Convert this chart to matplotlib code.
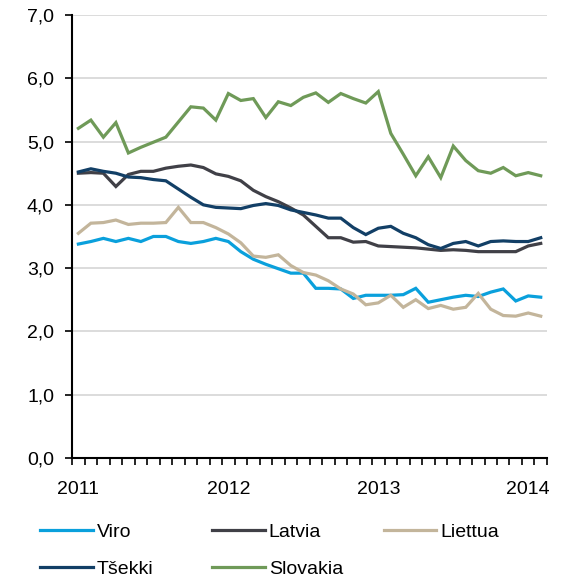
import numpy as np
import matplotlib
matplotlib.use("Agg")
import matplotlib.pyplot as plt
from matplotlib.ticker import FuncFormatter

plt.rcParams['font.family'] = ['Liberation Sans', 'DejaVu Sans']

# monthly data, Jan 2011 - Feb 2014
years = ['2011', '2012', '2013', '2014']

viro = [3.38, 3.42, 3.47, 3.42, 3.47, 3.42, 3.50, 3.50, 3.42, 3.39, 3.42, 3.47,
        3.42, 3.26, 3.14, 3.06, 2.99, 2.92, 2.92, 2.68, 2.68, 2.67, 2.52, 2.57,
        2.57, 2.57, 2.58, 2.68, 2.46, 2.50, 2.54, 2.57, 2.55, 2.62, 2.67, 2.48,
        2.56, 2.54]
latvia = [4.50, 4.51, 4.50, 4.29, 4.48, 4.53, 4.53, 4.58, 4.61, 4.63, 4.59, 4.49,
          4.45, 4.38, 4.23, 4.13, 4.05, 3.95, 3.84, 3.66, 3.48, 3.48, 3.41, 3.42,
          3.35, 3.34, 3.33, 3.32, 3.30, 3.28, 3.29, 3.28, 3.26, 3.26, 3.26, 3.26,
          3.35, 3.39]
liettua = [3.55, 3.71, 3.72, 3.76, 3.69, 3.71, 3.71, 3.72, 3.96, 3.72, 3.72, 3.64,
           3.54, 3.40, 3.19, 3.17, 3.21, 3.04, 2.93, 2.89, 2.80, 2.67, 2.59, 2.42,
           2.45, 2.57, 2.38, 2.50, 2.36, 2.41, 2.35, 2.38, 2.60, 2.35, 2.25, 2.24,
           2.29, 2.24]
tsekki = [4.52, 4.57, 4.53, 4.50, 4.44, 4.43, 4.40, 4.38, 4.25, 4.12, 4.00, 3.96,
          3.95, 3.94, 3.99, 4.02, 3.99, 3.92, 3.88, 3.84, 3.79, 3.79, 3.64, 3.53,
          3.63, 3.66, 3.55, 3.48, 3.37, 3.31, 3.39, 3.42, 3.35, 3.42, 3.43, 3.42,
          3.42, 3.48]
slovakia = [5.21, 5.34, 5.07, 5.30, 4.82, 4.91, 4.99, 5.07, 5.31, 5.55, 5.53, 5.34,
            5.76, 5.65, 5.68, 5.38, 5.63, 5.57, 5.70, 5.77, 5.62, 5.76, 5.68, 5.61,
            5.79, 5.13, 4.80, 4.46, 4.76, 4.43, 4.93, 4.70, 4.54, 4.50, 4.59, 4.46,
            4.51, 4.46]

series = [
    ('Viro', viro, '#0AA0DC'),
    ('Latvia', latvia, '#404047'),
    ('Liettua', liettua, '#C3B59B'),
    ('Tšekki', tsekki, '#123F66'),
    ('Slovakia', slovakia, '#6F9A58'),
]

x = np.arange(len(viro))

fig = plt.figure(figsize=(5.68, 5.81), dpi=100)
ax = fig.add_axes([0.127, 0.212, 0.836, 0.762])

handles = {}
for name, vals, col in series:
    h, = ax.plot(x, vals, color=col, lw=2.3, solid_joinstyle='miter', label=name)
    handles[name] = h

ax.set_xlim(-0.5, len(x) - 0.5)
ax.set_ylim(0, 7)
ax.set_yticks(range(8))
ax.yaxis.set_major_formatter(FuncFormatter(lambda v, p: f"{v:.1f}".replace('.', ',')))
ax.grid(axis='y', color='#D9D9D9', lw=1.3)
ax.set_axisbelow(True)

ax.set_xticks([0, 12, 24, 36])
ax.set_xticklabels(years)
ax.set_xticks(np.arange(-0.5, len(x), 1), minor=True)
ax.tick_params(axis='x', which='major', length=0, pad=17, labelsize=14)
ax.tick_params(axis='x', which='minor', length=5, width=1.2, direction='out')
ax.tick_params(axis='y', length=5, width=1.2, labelsize=14, pad=8)

for s in ['top', 'right']:
    ax.spines[s].set_visible(False)
for s in ['left', 'bottom']:
    ax.spines[s].set_linewidth(1.5)
    ax.spines[s].set_color('black')

# legend, three columns placed like the original
cols = [['Viro', 'Tšekki'], ['Latvia', 'Slovakia'], ['Liettua']]
col_x = [0.071, 0.374, 0.676]
for names, cx in zip(cols, col_x):
    fig.legend([handles[n] for n in names], names, loc='upper left',
               bbox_to_anchor=(cx, 0.099), frameon=False, fontsize=14,
               handlelength=2.7, handletextpad=0.2, labelspacing=1.0,
               borderpad=0, borderaxespad=0)

fig.savefig('out.png', dpi=100)
